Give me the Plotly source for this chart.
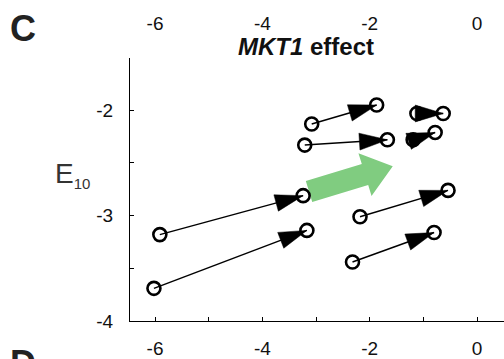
import numpy as np
import plotly.graph_objects as go

# Per-group MKT1 shift: position with one allele (start) -> other allele (end)
start_x = [-5.91, -6.02, -3.08, -3.21, -1.12, -1.19, -2.18, -2.32]
start_y = [-3.18, -3.69, -2.13, -2.33, -2.03, -2.28, -3.01, -3.44]
end_x = [-3.24, -3.17, -1.87, -1.67, -0.63, -0.78, -0.54, -0.80]
end_y = [-2.81, -3.14, -1.95, -2.28, -2.03, -2.21, -2.76, -3.16]

# average shift (green arrow)
mean_start = (-3.13, -2.77)
mean_end = (-1.57, -2.53)

x_ticks = [-6, -5, -4, -3, -2, -1, 0]
x_labels = ["-6", "", "-4", "", "-2", "", "0"]
top_ticks = [-6, -4, -2, 0]
top_labels = ["-6", "-4", "-2", "0"]
y_ticks = [-4, -3.5, -3, -2.5, -2, -1.5]
y_labels = ["-4", "", "-3", "", "-2", ""]

W, H = 504, 359
ML, MR, MT, MB = 130, 0, 0, 36
X_RANGE = [-6.466, 0.503]
Y_RANGE = [-4.0, -1.5]
Y_DOMAIN_TOP = 0.8204
FONT = "Liberation Sans, Arial, Helvetica, sans-serif"

# pixels per data unit, used to build arrow polygons with true screen shapes
plot_w = W - ML - MR
plot_h = (H - MT - MB) * Y_DOMAIN_TOP
sx = plot_w / (X_RANGE[1] - X_RANGE[0])
sy = plot_h / (Y_RANGE[1] - Y_RANGE[0])


def arrow_head(x0, y0, x1, y1, length=28.0, width=17.0):
    dx, dy = (x1 - x0) * sx, (y1 - y0) * sy
    n = np.hypot(dx, dy)
    ux, uy = dx / n, dy / n
    nx, ny = -uy, ux
    tx, ty = x1 * sx, y1 * sy
    bx, by = tx - length * ux, ty - length * uy
    pts = [(tx, ty),
           (bx + width / 2 * nx, by + width / 2 * ny),
           (bx - width / 2 * nx, by - width / 2 * ny),
           (tx, ty)]
    return [p[0] / sx for p in pts], [p[1] / sy for p in pts]


def block_arrow(x0, y0, x1, y1, shaft=22.0, head_w=45.0, head_l=29.0):
    dx, dy = (x1 - x0) * sx, (y1 - y0) * sy
    n = np.hypot(dx, dy)
    ux, uy = dx / n, dy / n
    nx, ny = -uy, ux
    ax, ay = x0 * sx, y0 * sy
    tx, ty = x1 * sx, y1 * sy
    bx, by = tx - head_l * ux, ty - head_l * uy
    hs, hh = shaft / 2, head_w / 2
    pts = [(ax + hs * nx, ay + hs * ny),
           (bx + hs * nx, by + hs * ny),
           (bx + hh * nx, by + hh * ny),
           (tx, ty),
           (bx - hh * nx, by - hh * ny),
           (bx - hs * nx, by - hs * ny),
           (ax - hs * nx, ay - hs * ny),
           (ax + hs * nx, ay + hs * ny)]
    return [p[0] / sx for p in pts], [p[1] / sy for p in pts]


fig = go.Figure()

# mean effect arrow
gx, gy = block_arrow(*mean_start, *mean_end)
fig.add_trace(go.Scatter(x=gx, y=gy, mode="lines", fill="toself",
                         fillcolor="#80cc80", line=dict(width=0),
                         hoverinfo="skip", showlegend=False))

# shafts
lx, ly = [], []
for a, b, c, d in zip(start_x, start_y, end_x, end_y):
    lx += [a, c, None]
    ly += [b, d, None]
fig.add_trace(go.Scatter(x=lx, y=ly, mode="lines",
                         line=dict(color="black", width=1.5),
                         hoverinfo="skip", showlegend=False))

# heads
hx, hy = [], []
for a, b, c, d in zip(start_x, start_y, end_x, end_y):
    px_, py_ = arrow_head(a, b, c, d)
    hx += px_ + [None]
    hy += py_ + [None]
fig.add_trace(go.Scatter(x=hx, y=hy, mode="lines", fill="toself",
                         fillcolor="black", line=dict(color="black", width=0.5),
                         hoverinfo="skip", showlegend=False))

# circles at both ends
fig.add_trace(go.Scatter(x=start_x + end_x, y=start_y + end_y, mode="markers",
                         marker=dict(symbol="circle-open", size=13, color="black",
                                     line=dict(width=2.6)),
                         showlegend=False))

# invisible trace to carry the top axis
fig.add_trace(go.Scatter(x=top_ticks, y=[None] * len(top_ticks), xaxis="x2",
                         mode="markers", showlegend=False, hoverinfo="skip"))

tick_font = dict(family=FONT, size=19, color="#111111")

fig.update_layout(
    width=W, height=H,
    margin=dict(l=ML, r=MR, t=MT, b=MB, pad=0),
    paper_bgcolor="white", plot_bgcolor="white",
    xaxis=dict(range=X_RANGE, showgrid=False, zeroline=False,
               showline=True, linecolor="black", linewidth=1.2,
               ticks="inside", ticklen=4, tickwidth=1, tickcolor="black",
               tickvals=x_ticks, ticktext=x_labels, tickfont=tick_font,
               ticklabelstandoff=10, anchor="y"),
    xaxis2=dict(range=X_RANGE, overlaying="x", side="top", anchor="free",
                position=0.895, showgrid=False, zeroline=False, showline=False,
                ticks="", tickvals=top_ticks, ticktext=top_labels,
                tickfont=tick_font),
    yaxis=dict(range=Y_RANGE, domain=[0, Y_DOMAIN_TOP], showgrid=False,
               zeroline=False, showline=True, linecolor="black", linewidth=1.2,
               ticks="inside", ticklen=4, tickwidth=1, tickcolor="black",
               tickvals=y_ticks, ticktext=y_labels, tickfont=tick_font,
               ticklabelstandoff=12),
)


def px_to_paper(px, py):
    return (px - ML) / plot_w, (H - MB - py) / (H - MT - MB)


annots = [
    dict(text="<b>C</b>", pos=(23, 29), size=36, color="#222222", xa="center"),
    dict(text="<b>D</b>", pos=(23, 366), size=36, color="#222222", xa="center"),
    dict(text="<b><i>MKT1</i> effect</b>", pos=(306, 47), size=24, color="#111111", xa="center"),
    dict(text="E<sub><span style='font-size:15px'>10</span></sub>", pos=(53, 176),
         size=28, color="#333333", xa="left"),
]
for a in annots:
    ax_, ay_ = px_to_paper(*a["pos"])
    fig.add_annotation(x=ax_, y=ay_, xref="paper", yref="paper", text=a["text"],
                       showarrow=False, xanchor=a["xa"], yanchor="middle",
                       font=dict(family=FONT, size=a["size"], color=a["color"]))

fig.write_html("out.html")
